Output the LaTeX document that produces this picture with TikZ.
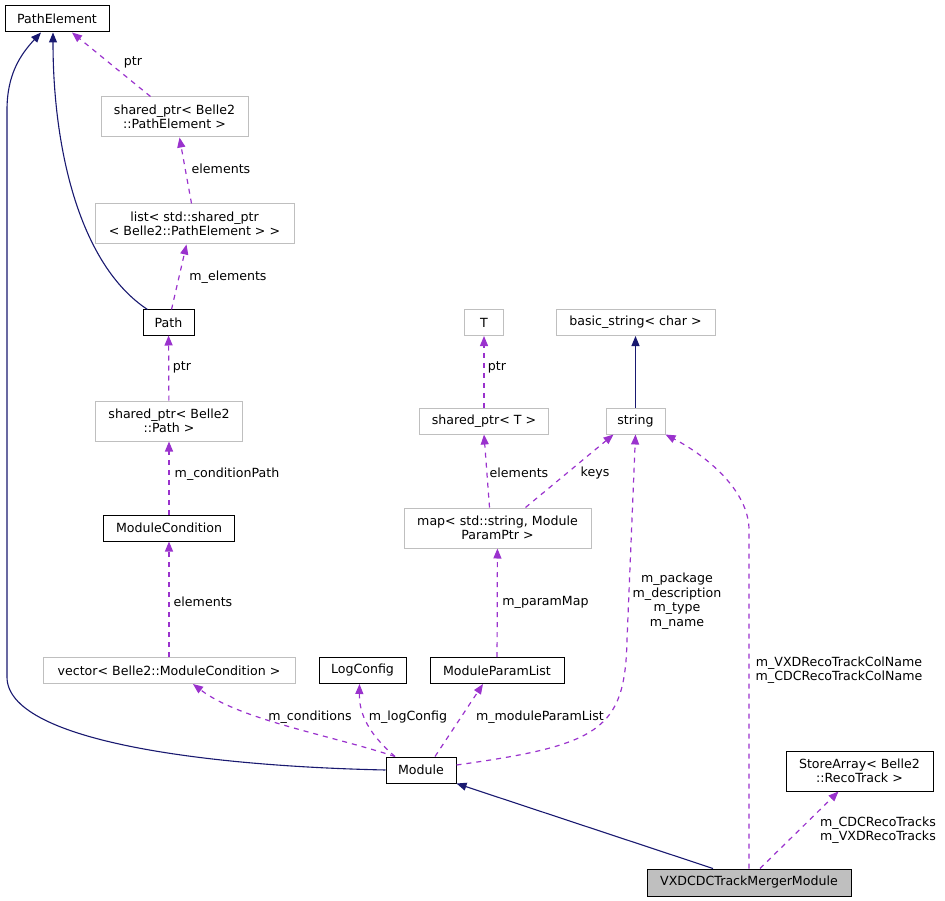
\documentclass[tikz,border=0pt]{standalone}
\usepackage{fontspec}
\setmainfont{DejaVu Sans}
\usepackage{tikz}
\usetikzlibrary{arrows.meta}

\definecolor{navy}{HTML}{191970}
\definecolor{orchid}{HTML}{9A32CD}
\definecolor{boxgray}{HTML}{BFBFBF}

\tikzset{
  cls/.style={draw=black, line width=1pt, inner sep=0pt, align=center},
  extcls/.style={draw=boxgray, line width=1pt, inner sep=0pt, align=center},
  thiscls/.style={cls, fill=boxgray},
  inh/.style={draw=navy, line width=1.1pt, -{Triangle[length=10pt,width=8pt]}},
  uses/.style={draw=orchid, line width=1.2pt, dash pattern=on 5pt off 5pt, -{Triangle[length=10pt,width=8pt]}},
  lbl/.style={inner sep=0pt, align=center}
}

\begin{document}
\begin{tikzpicture}[x=1pt,y=-1pt,font=\fontsize{12.6}{14.5}\selectfont]
\useasboundingbox (0,0) rectangle (945,901);

\node[cls, minimum width=104pt, minimum height=26pt] (pe) at (57,19) {PathElement};
\node[extcls, minimum width=147pt, minimum height=40pt] (spe) at (174.5,117) {shared\_ptr< Belle2\\::PathElement >};
\node[extcls, minimum width=199pt, minimum height=40pt] (lst) at (194.5,224) {list< std::shared\_ptr\\< Belle2::PathElement > >};
\node[cls, minimum width=51pt, minimum height=25pt] (path) at (168.5,322.5) {Path};
\node[extcls, minimum width=147pt, minimum height=40pt] (spp) at (169,421) {shared\_ptr< Belle2\\::Path >};
\node[cls, minimum width=131pt, minimum height=26pt] (mc) at (169,528) {ModuleCondition};
\node[extcls, minimum width=252pt, minimum height=26pt] (vec) at (169,670.5) {vector< Belle2::ModuleCondition >};
\node[cls, minimum width=87pt, minimum height=26pt] (logc) at (362.5,670.5) {LogConfig};
\node[cls, minimum width=134pt, minimum height=26pt] (mpl) at (497,670.5) {ModuleParamList};
\node[cls, minimum width=70pt, minimum height=26pt] (mod) at (421,770) {Module};
\node[thiscls, minimum width=204pt, minimum height=27pt] (vxd) at (749,882.5) {VXDCDCTrackMergerModule};
\node[cls, minimum width=147pt, minimum height=40pt] (sa) at (859.5,771) {StoreArray< Belle2\\::RecoTrack >};
\node[extcls, minimum width=39pt, minimum height=26pt] (tt) at (484,322.5) {T};
\node[extcls, minimum width=159pt, minimum height=26pt] (bs) at (635.5,322.5) {basic\_string< char >};
\node[extcls, minimum width=129pt, minimum height=26pt] (spt) at (484,421) {shared\_ptr< T >};
\node[extcls, minimum width=59pt, minimum height=26pt] (str) at (635.5,421) {string};
\node[extcls, minimum width=187pt, minimum height=40pt] (map) at (497.5,528) {map< std::string, Module\\ParamPtr >};

\draw[uses] ([xshift=-24pt]spe.north) -- ([xshift=15pt]pe.south);
\draw[uses] ([xshift=-3pt]lst.north) -- ([xshift=5pt]spe.south);
\draw[uses] ([xshift=3pt]path.north) -- ([xshift=-8pt]lst.south);
\draw[inh] ([xshift=-21pt]path.north) .. controls (80,265) and (53,150) .. ([xshift=-4pt]pe.south);
\draw[inh] (mod.west) .. controls (200,766) and (7,740) .. (7,677) -- (7,110) .. controls (7,75) and (20,55) .. ([xshift=-16pt]pe.south);
\draw[uses] (spp) -- (path);
\draw[uses] (mc) -- (spp);
\draw[uses] (vec) -- (mc);
\draw[uses] ([xshift=-26pt]mod.north) .. controls (330,735) and (240,720) .. ([xshift=24pt]vec.south);
\draw[uses] ([xshift=-26pt]mod.north) .. controls (370,735) and (359,715) .. ([xshift=-3pt]logc.south);
\draw[uses] ([xshift=14pt]mod.north) -- ([xshift=-14pt]mpl.south);
\draw[uses] ([yshift=5pt]mod.east) .. controls (600,745) and (625,730) .. (627,640) -- (str.south);
\draw[uses] (mpl) -- (map);
\draw[uses] ([xshift=-8pt]map.north) -- (spt.south);
\draw[uses] ([xshift=28pt]map.north) -- ([xshift=-22pt]str.south);
\draw[uses] (spt) -- (tt);
\draw[inh] (str) -- (bs);
\draw[inh] ([xshift=-36pt]vxd.north) -- (mod.south east);
\draw[uses] (vxd.north) -- (749,530) .. controls (749,490) and (705,455) .. (str.south east);
\draw[uses] ([xshift=11pt]vxd.north) -- ([xshift=-21pt]sa.south);

\node[lbl] (lptra) at (133,62) {ptr};
\node[lbl] (lela) at (221,169) {elements};
\node[lbl] (lmel) at (228,277) {m\_elements};
\node[lbl] (lptrb) at (182,367) {ptr};
\node[lbl] (lcp) at (227,474) {m\_conditionPath};
\node[lbl] (lelb) at (203,602) {elements};
\node[lbl] (lcond) at (310,717) {m\_conditions};
\node[lbl] (llog) at (408,717) {m\_logConfig};
\node[lbl] (lmpl) at (540,717) {m\_moduleParamList};
\node[lbl] (lptrc) at (497,367) {ptr};
\node[lbl] (lelc) at (519,473) {elements};
\node[lbl] (lkeys) at (595,473) {keys};
\node[lbl] (lpm) at (545.5,602) {m\_paramMap};
\node[lbl] (lpkg) at (677,601) {m\_package\\m\_description\\m\_type\\m\_name};
\node[lbl] (lcol) at (839,670) {m\_VXDRecoTrackColName\\m\_CDCRecoTrackColName};
\node[lbl] (ltrk) at (878,830) {m\_CDCRecoTracks\\m\_VXDRecoTracks};
\end{tikzpicture}
\end{document}
